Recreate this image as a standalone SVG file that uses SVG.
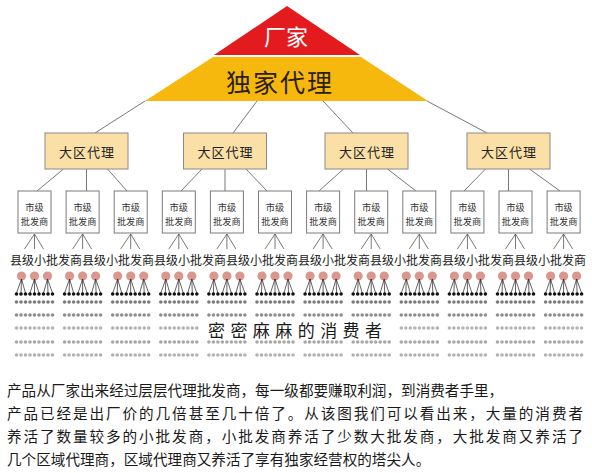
<svg xmlns="http://www.w3.org/2000/svg" xmlns:xlink="http://www.w3.org/1999/xlink" width="592" height="473" viewBox="0 0 592 473">
<style>
text{font-family:"Noto Sans CJK SC","Noto Sans",sans-serif;}
.ln{stroke:#555;stroke-width:0.8;fill:none;}
.reg{fill:#FAE0A6;stroke:#8a8a8a;stroke-width:1;}
.city{fill:#fff;stroke:#7a7a7a;stroke-width:1;}
.rt{font-size:13px;fill:#222;text-anchor:middle;letter-spacing:1px;}
.ct{font-size:9.2px;fill:#333;text-anchor:middle;}
.pk{fill:#D9978F;}
.bk{fill:#111;}
.bl{stroke:#222;stroke-width:0.7;fill:none;}
.g1{fill:#7c7c7c;}
.g2{fill:#8e8e8e;}
.g3{fill:#b4b4b4;}
.g4{fill:#a8a8a8;}
.g5{fill:#b2b2b2;}
.para{font-size:14.6px;fill:#1a1a1a;}
</style>
<defs>
<g id="dots9">
<circle cx="-18" cy="0" r="1.8"/><circle cx="-13.5" cy="0" r="1.8"/><circle cx="-9" cy="0" r="1.8"/><circle cx="-4.5" cy="0" r="1.8"/><circle cx="0" cy="0" r="1.8"/><circle cx="4.5" cy="0" r="1.8"/><circle cx="9" cy="0" r="1.8"/><circle cx="13.5" cy="0" r="1.8"/><circle cx="18" cy="0" r="1.8"/>
</g>
<g id="cons">
<circle class="pk" cx="-13" cy="276" r="4.6"/><circle class="pk" cx="0" cy="276" r="4.6"/><circle class="pk" cx="13" cy="276" r="4.6"/>
<path class="bl" d="M-13,279 L-18,293 M-13,279 L-13.5,293 M-13,279 L-9,293 M0,279 L-4.5,293 M0,279 L0,293 M0,279 L4.5,293 M13,279 L9,293 M13,279 L13.5,293 M13,279 L18,293"/>
<use xlink:href="#dots9" class="bk" y="294"/>
<use xlink:href="#dots9" class="g1" y="302"/>
<use xlink:href="#dots9" class="g2" y="315"/>
<use xlink:href="#dots9" class="g4" y="342"/>
<use xlink:href="#dots9" class="g5" y="355"/>
</g>
<path id="fan" class="ln" d="M0,234 L-10,249 M0,234 L0,249 M0,234 L9,249"/>
</defs>
<rect width="592" height="473" fill="#fff"/>

<g id="connectors">
<path class="ln" d="M145,101 L95,133 M257,101 L233,133 M323,101 L353,133 M427,101 L487,133"/>
<path class="ln" d="M63.5,169 L37,191 M86.5,169 L86.5,191 M107.5,169 L127,191"/>
<path class="ln" d="M202,169 L181,191 M225,169 L225,191 M246,169 L267,191"/>
<path class="ln" d="M343.5,169 L319,191 M366.5,169 L366.5,191 M387.5,169 L416,191"/>
<path class="ln" d="M485.5,169 L464,191 M508.5,169 L508.5,191 M529.5,169 L560,191"/>
<use xlink:href="#fan" x="34.5"/><use xlink:href="#fan" x="82.6"/><use xlink:href="#fan" x="130.7"/><use xlink:href="#fan" x="178.8"/><use xlink:href="#fan" x="226.9"/><use xlink:href="#fan" x="275"/><use xlink:href="#fan" x="323.1"/><use xlink:href="#fan" x="371.2"/><use xlink:href="#fan" x="419.3"/><use xlink:href="#fan" x="467.4"/><use xlink:href="#fan" x="515.5"/><use xlink:href="#fan" x="563.6"/>
</g>

<g id="factory">
<polygon points="287,6 360,55 214,55" fill="#E31B1F"/>
<text x="286" y="45" font-size="22" fill="#fff" text-anchor="middle">厂家</text>
</g>
<g id="exclusive">
<polygon points="213,57 361,57 428,101 145,101" fill="#F6B80C"/>
<text x="280" y="92" font-size="25" fill="#2a2010" text-anchor="middle" letter-spacing="2">独家代理</text>
</g>

<g id="region1"><rect class="reg" x="45" y="133" width="83" height="36"/><text class="rt" x="87" y="157">大区代理</text></g>
<g id="region2"><rect class="reg" x="183.5" y="133" width="83" height="36"/><text class="rt" x="225.5" y="157">大区代理</text></g>
<g id="region3"><rect class="reg" x="325" y="133" width="83" height="36"/><text class="rt" x="367" y="157">大区代理</text></g>
<g id="region4"><rect class="reg" x="467" y="133" width="83" height="36"/><text class="rt" x="509" y="157">大区代理</text></g>

<g id="city1"><rect class="city" x="18" y="191" width="33" height="42"/><text class="ct" x="34.5" y="211">市级</text><text class="ct" x="34.5" y="224.5">批发商</text></g>
<g id="city2"><rect class="city" x="66.1" y="191" width="33" height="42"/><text class="ct" x="82.6" y="211">市级</text><text class="ct" x="82.6" y="224.5">批发商</text></g>
<g id="city3"><rect class="city" x="114.2" y="191" width="33" height="42"/><text class="ct" x="130.7" y="211">市级</text><text class="ct" x="130.7" y="224.5">批发商</text></g>
<g id="city4"><rect class="city" x="162.3" y="191" width="33" height="42"/><text class="ct" x="178.8" y="211">市级</text><text class="ct" x="178.8" y="224.5">批发商</text></g>
<g id="city5"><rect class="city" x="210.4" y="191" width="33" height="42"/><text class="ct" x="226.9" y="211">市级</text><text class="ct" x="226.9" y="224.5">批发商</text></g>
<g id="city6"><rect class="city" x="258.5" y="191" width="33" height="42"/><text class="ct" x="275" y="211">市级</text><text class="ct" x="275" y="224.5">批发商</text></g>
<g id="city7"><rect class="city" x="306.6" y="191" width="33" height="42"/><text class="ct" x="323.1" y="211">市级</text><text class="ct" x="323.1" y="224.5">批发商</text></g>
<g id="city8"><rect class="city" x="354.7" y="191" width="33" height="42"/><text class="ct" x="371.2" y="211">市级</text><text class="ct" x="371.2" y="224.5">批发商</text></g>
<g id="city9"><rect class="city" x="402.8" y="191" width="33" height="42"/><text class="ct" x="419.3" y="211">市级</text><text class="ct" x="419.3" y="224.5">批发商</text></g>
<g id="city10"><rect class="city" x="450.9" y="191" width="33" height="42"/><text class="ct" x="467.4" y="211">市级</text><text class="ct" x="467.4" y="224.5">批发商</text></g>
<g id="city11"><rect class="city" x="499" y="191" width="33" height="42"/><text class="ct" x="515.5" y="211">市级</text><text class="ct" x="515.5" y="224.5">批发商</text></g>
<g id="city12"><rect class="city" x="547.1" y="191" width="33" height="42"/><text class="ct" x="563.6" y="211">市级</text><text class="ct" x="563.6" y="224.5">批发商</text></g>

<g id="county">
<text x="10" y="265" font-size="12" fill="#222" textLength="576" lengthAdjust="spacing">县级小批发商县级小批发商县级小批发商县级小批发商县级小批发商县级小批发商县级小批发商县级小批发商</text>
</g>

<g id="consumers">
<use xlink:href="#cons" x="34.5"/><use xlink:href="#cons" x="82.6"/><use xlink:href="#cons" x="130.7"/><use xlink:href="#cons" x="178.8"/><use xlink:href="#cons" x="226.9"/><use xlink:href="#cons" x="275"/><use xlink:href="#cons" x="323.1"/><use xlink:href="#cons" x="371.2"/><use xlink:href="#cons" x="419.3"/><use xlink:href="#cons" x="467.4"/><use xlink:href="#cons" x="515.5"/><use xlink:href="#cons" x="563.6"/>
<g class="g3">
<use xlink:href="#dots9" x="34.5" y="328"/><use xlink:href="#dots9" x="82.6" y="328"/><use xlink:href="#dots9" x="130.7" y="328"/><use xlink:href="#dots9" x="178.8" y="328"/><use xlink:href="#dots9" x="419.3" y="328"/><use xlink:href="#dots9" x="467.4" y="328"/><use xlink:href="#dots9" x="515.5" y="328"/><use xlink:href="#dots9" x="563.6" y="328"/>
</g>
<text x="208" y="337" font-size="17" fill="#1a1a1a" textLength="174" lengthAdjust="spacing">密密麻麻的消费者</text>
</g>

<g id="caption">
<text class="para" x="7" y="396">产品从厂家出来经过层层代理批发商，每一级都要赚取利润，到消费者手里，</text>
<text class="para" x="7" y="419" textLength="576" lengthAdjust="spacing">产品已经是出厂价的几倍甚至几十倍了。从该图我们可以看出来，大量的消费者</text>
<text class="para" x="7" y="442" textLength="576" lengthAdjust="spacing">养活了数量较多的小批发商，小批发商养活了少数大批发商，大批发商又养活了</text>
<text class="para" x="7" y="465">几个区域代理商，区域代理商又养活了享有独家经营权的塔尖人。</text>
</g>
</svg>
